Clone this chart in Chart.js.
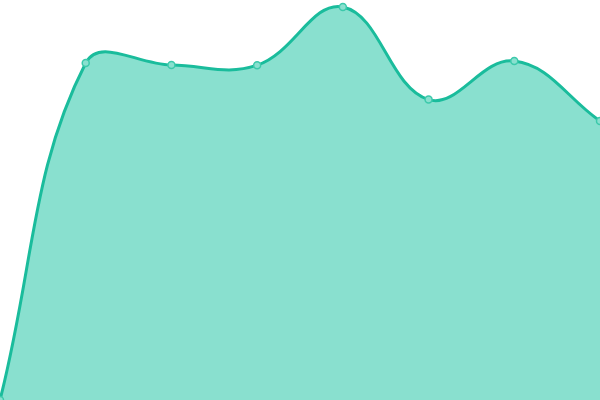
<!DOCTYPE html>
<html><head><meta charset="utf-8">
<script src="https://cdn.jsdelivr.net/npm/chart.js@4"></script>
<style>html,body{margin:0;padding:0;background:#fff}#wrap{width:600px;height:400px}</style>
</head><body><div id="wrap"><canvas id="c"></canvas></div>
<script>
const labels = ["1","2","3","4","5","6","7","8"];
const values = [0, 84.25, 83.75, 83.7, 98.25, 75.1, 84.75, 69.75];
new Chart(document.getElementById('c'), {
  type: 'line',
  data: { labels: labels, datasets: [{
    data: values,
    fill: true,
    tension: 0.4,
    borderColor: '#1abc9c',
    backgroundColor: '#89e0cf',
    borderWidth: 3,
    pointRadius: 3.5,
    pointBorderWidth: 1.5,
    pointBackgroundColor: '#89e0cf',
    pointBorderColor: '#3cc9ab'
  }]},
  options: {
    responsive: true, maintainAspectRatio: false, animation: false,
    layout: { padding: 0, autoPadding: false },
    plugins: { legend: { display: false }, tooltip: { enabled: false } },
    scales: {
      x: { display: false },
      y: { display: false, min: 0, max: 100 }
    }
  }
});
</script></body></html>
